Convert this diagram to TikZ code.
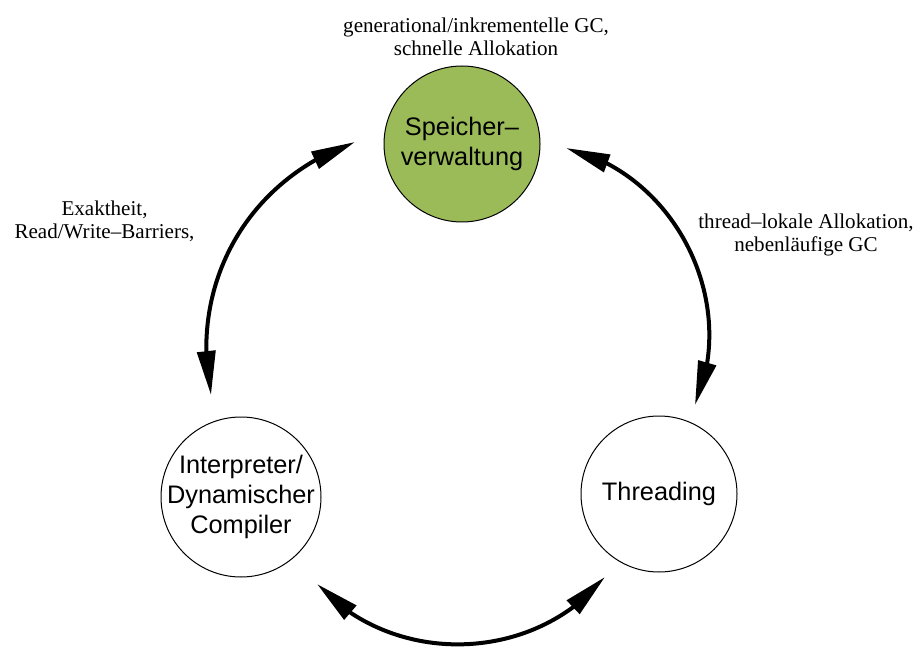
\documentclass[tikz,border=0pt]{standalone}
\usepackage{fontspec}
\setmainfont{Liberation Serif}
\newfontfamily\arialfont{Liberation Sans}
\usetikzlibrary{arrows.meta,bending}
\definecolor{memgreen}{HTML}{9BBB59}

\begin{document}
\begin{tikzpicture}[x=0.75pt,y=-0.75pt,
  topic/.style={circle, draw=black, line width=0.75pt, minimum size=#1, inner sep=0pt},
  topictext/.style={font=\arialfont\fontsize{19}{22.5}\selectfont, align=center, inner sep=0pt},
  note/.style={font=\fontsize{15.8}{17.25}\selectfont, align=center, inner sep=0pt},
  link/.style={line width=3pt,
    {Triangle[length=33pt,width=13.5pt]}-{Triangle[length=33pt,width=13.5pt]}}
]
\useasboundingbox (0,0) rectangle (920,648);

% the three components
\node[topic=117pt, fill=memgreen,
      label={[topictext]center:Speicher–\\verwaltung}] (mem) at (462,144) {};
\node[topic=120pt, fill=white,
      label={[topictext]center:Interpreter/\\Dynamischer\\Compiler}] (ipc) at (241,497) {};
\node[topic=117pt, fill=white,
      label={[topictext]center:Threading}] (thr) at (659,494) {};

% relation labels
\node[note] (gcnote) at (476,37) {generational/inkrementelle GC,\\schnelle Allokation};
\node[note] (barrier) at (104.5,221) {Exaktheit,\\Read/Write–Barriers,};
\node[note] (tlab) at (806,235) {thread–lokale Allokation,\\nebenläufige GC};

% ends of the double-headed arcs
\coordinate (memL) at (355,142);
\coordinate (ipcT) at (211,395);
\coordinate (memR) at (566,148);
\coordinate (thrT) at (695,405);
\coordinate (ipcB) at (317,584);
\coordinate (thrB) at (605,577);

\draw[link] (memL) to[bend right=41] (ipcT);
\draw[link] (memR) to[bend left=50] (thrT);
\draw[link] (ipcB) to[bend right=49] (thrB);
\end{tikzpicture}
\end{document}
